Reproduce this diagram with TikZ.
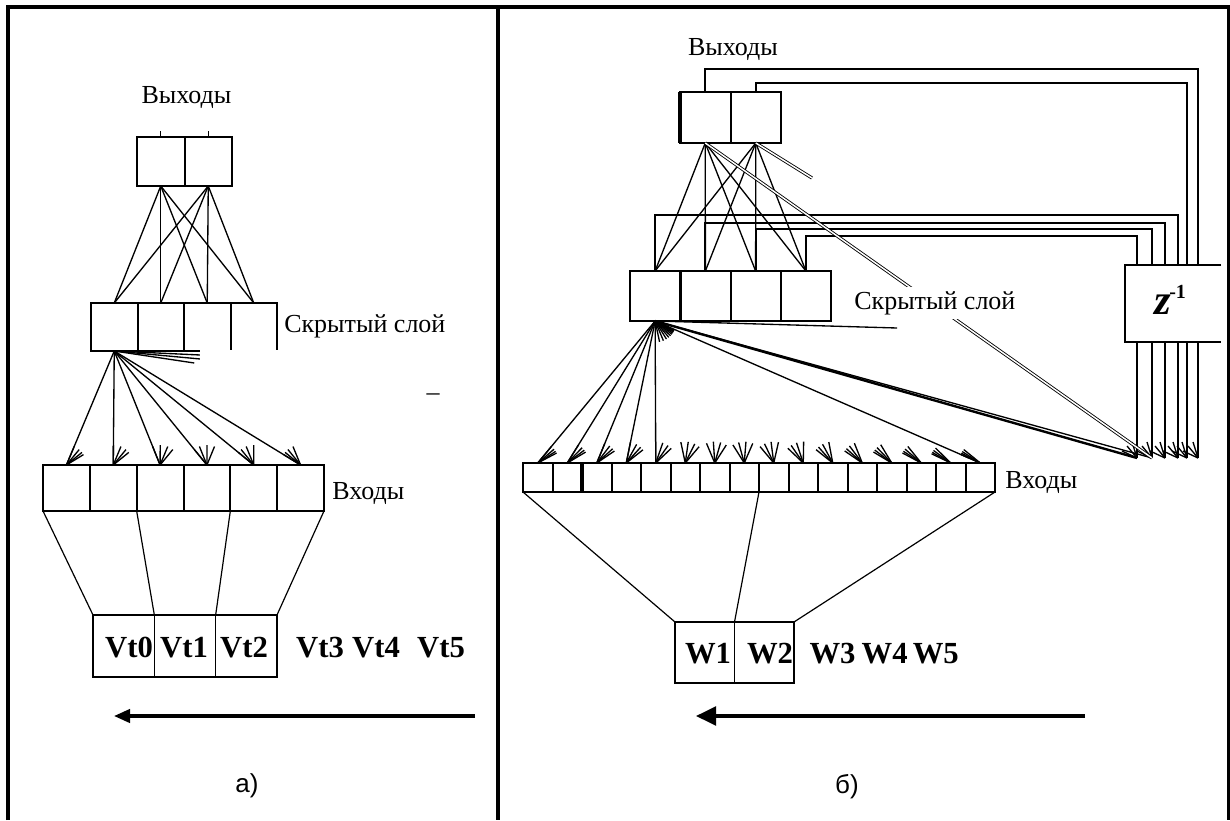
\documentclass[tikz,border=0pt]{standalone}
\usepackage{fontspec}
\setmainfont{Liberation Serif}
\newfontfamily\capfont{Liberation Sans}
\usetikzlibrary{calc,arrows.meta}
\begin{document}
\begin{tikzpicture}[x=0.75pt,y=-0.75pt,
 box/.style={draw,line width=1.5pt,inner sep=0pt,outer sep=0pt},
 lout/.style={box,minimum width=35.625pt,minimum height=36.75pt},
 lhid/.style={box,minimum width=34.875pt,minimum height=36pt},
 linp/.style={box,minimum width=35.125pt,minimum height=34.5pt},
 lvt/.style={box,line width=1.2pt,minimum width=46pt,minimum height=46.5pt},
 rout/.style={box,minimum width=37.875pt,minimum height=38.25pt},
 rhid/.style={box,minimum width=37.6875pt,minimum height=37.5pt},
 rinp/.style={box,minimum width=22.125pt,minimum height=21.75pt},
 rw/.style={box,line width=1.2pt,minimum width=44.625pt,minimum height=45.75pt},
 conn/.style={line width=1pt},
 thin/.style={line width=0.9pt},
 fb/.style={line width=1.6pt},
 dbl/.style={double,double distance=1.1pt,line width=0.65pt},
 txt/.style={inner sep=0pt,font=\fontsize{19.5}{22}\selectfont},
 btxt/.style={inner sep=0pt,font=\fontsize{23}{26}\selectfont\bfseries},
 captxt/.style={inner sep=0pt,font=\capfont\fontsize{19.5}{22}\selectfont},
 frameline/.style={line width=2.4pt}
]
\useasboundingbox (0,0) rectangle (1230,820);

% ---------- frame ----------
\draw[frameline] (8,820) -- (8,7) -- (1230,7);
\draw[frameline] (498,7) -- (498,820);
\draw[line width=1.6pt] (1228.5,7) -- (1228.5,820);

% ================= LEFT PANEL =================
\foreach \i/\x in {1/160.75,2/208.25} \node[lout] (lo\i) at (\x,161.5) {};
\foreach \i/\x in {1/114.25,2/160.75,3/207.25,4/253.75} \node[lhid] (lh\i) at (\x,327) {};
\foreach \i in {1,...,6} \node[linp] (li\i) at ({43+46.833*(\i-0.5)},488) {};
\foreach \i/\x in {0/123.67,1/185,2/246.33} \node[lvt] (lv\i) at (\x,646) {};

\draw[conn] (lo1.north) -- ++(0,-6);
\draw[conn] (lo2.north) -- ++(0,-6);
\foreach \i in {1,2} \foreach \k in {1,...,4} \draw[conn] (lo\i.south) -- (lh\k.north);
\foreach \j in {1,...,6} \draw[conn] (lh1.south) -- (li\j.north);
\foreach \j in {1,...,6} \foreach \k in {1,...,4}
  \draw[conn] (li\j.north) -- ($(li\j.north)!15pt!(lh\k.south)$);
\draw[conn] (lh1.south) -- ++(86,4);
\draw[conn] (lh1.south) -- ++(86,8);
\draw[conn] (lh1.south) -- ++(80,12);
\fill[white] (200,349.9) rectangle (292,372);

\draw[thin] (li1.south west) -- (lv0.north west);
\draw[thin] (li3.south west) -- (lv1.north west);
\draw[thin] (li5.south west) -- (lv2.north west);
\draw[thin] (li6.south east) -- (lv2.north east);

\node[txt,anchor=base] (lout-t) at (186.5,104) {Выходы};
\node[txt,anchor=base west] (lhid-t) at (284,332) {Скрытый слой};
\node[txt,anchor=base west] (linp-t) at (332,499) {Входы};
\node[txt] (ldash) at (433,397) {–};

\node[btxt,anchor=base] (vt0) at (129,657) {Vt0};
\node[btxt,anchor=base] (vt1) at (184,657) {Vt1};
\node[btxt,anchor=base] (vt2) at (244,657) {Vt2};
\node[btxt,anchor=base] (vt3) at (320,657) {Vt3};
\node[btxt,anchor=base] (vt4) at (376,657) {Vt4};
\node[btxt,anchor=base] (vt5) at (441,657) {Vt5};

\coordinate (la1) at (475,716);
\coordinate (la2) at (114,716);
\draw[line width=2.4pt,-{Triangle[length=12pt,width=10pt]}] (la1) -- (la2);
\node[captxt,anchor=base] (capa) at (247,792) {а)};

% ================= RIGHT PANEL =================
\foreach \i/\x in {1/705.25,2/755.75} \node[rout] (ro\i) at (\x,117.5) {};
\foreach \i/\x in {1/655.125,2/705.375,3/755.625,4/805.875} \node[rhid] (rh\i) at (\x,296) {};
\foreach \i in {1,...,16} \node[rinp] (ri\i) at ({523+29.5*(\i-0.5)},477.5) {};
\foreach \i/\x in {1/704.75,2/764.25} \node[rw] (rw\i) at (\x,652.5) {};
\draw[line width=2.4pt] (ro1.north west) -- (ro1.south west);
\draw[line width=2.4pt] (rh2.north west) -- (rh2.south west);
\draw[line width=2.4pt] (ri3.north west) -- (ri3.south west);

% z^-1 box
\node[inner sep=0pt,outer sep=0pt,minimum width=72pt,minimum height=57.75pt] (zb) at (1173,303.5) {};
\draw[line width=1.5pt] (zb.north east) -- (zb.north west) -- (zb.south west) -- (zb.south east);
\node[inner sep=0pt] (zl) at (1170,300) {\fontsize{32}{32}\selectfont\bfseries\itshape z\kern-1pt\raisebox{12pt}{\fontsize{15}{15}\selectfont\upshape -1}};

\foreach \k/\x in {1/1137,2/1152,3/1165,4/1178,5/1187,6/1198} {
  \coordinate (zt\k) at (\x,265);
  \coordinate (zd\k) at (\x,342);
  \coordinate (ctx\k) at (\x,458);
}
\coordinate (fc1) at (1198,69);
\coordinate (fc2) at (1187,83);
\coordinate (fc3) at (1178,215);
\coordinate (fc4) at (1165,223);
\coordinate (fc5) at (1152,229);
\coordinate (fc6) at (1137,236);
\draw[fb] (ro1.north) |- (fc1) -- (zt6);
\draw[fb] (ro2.north) |- (fc2) -- (zt5);
\draw[fb] (rh1.north) |- (fc3) -- (zt4);
\draw[fb] (rh2.north) |- (fc4) -- (zt3);
\draw[fb] (rh3.north) |- (fc5) -- (zt2);
\draw[fb] (rh4.north) |- (fc6) -- (zt1);
\foreach \k in {1,...,6} \draw[fb] (zd\k) -- (ctx\k);

\foreach \i in {1,2} \foreach \k in {1,...,4} \draw[conn] (ro\i.south) -- (rh\k.north);
\foreach \j in {1,2,3,4,5,16} \draw[conn] (rh1.south) -- (ri\j.north);
\foreach \j in {6,...,15} \draw[conn] (rh1.south) -- ($(rh1.south)!16pt!(ri\j.north)$);
\foreach \j in {1,...,16} \foreach \k in {1,...,4}
  \draw[conn] (ri\j.north) -- ($(ri\j.north)!16pt!(rh\k.south)$);
\draw[line width=1.8pt] (rh1.south) -- (ctx1);
\draw[conn] (rh1.south) -- (ctx2);
\coordinate (hbend) at (897,328);
\draw[conn] (rh1.south) -- (hbend);
\foreach \k in {1,...,6} \foreach \dx/\dy in {-5/-16,-10/-12,-15/-7}
  \draw[conn] (ctx\k) -- ++(\dx,\dy);

\draw[dbl] (ro1.south) -- (ctx2);
\coordinate (o2end) at (812,178);
\draw[dbl] (ro2.south) -- (o2end);

\draw[thin] (ri1.south west) -- (rw1.north west);
\draw[thin] (ri8.south east) -- (rw1.north east);
\draw[thin] (ri16.south east) -- (rw2.north east);

\node[txt,anchor=base] (rout-t) at (733,56) {Выходы};
\node[txt,anchor=base west,fill=white,inner sep=3pt] (rhid-t) at (850,309) {Скрытый слой};
\node[txt,anchor=base west] (rinp-t) at (1005,488) {Входы};

\node[btxt,anchor=base] (w1) at (708,663) {W1};
\node[btxt,anchor=base] (w2) at (770,663) {W2};
\node[btxt,anchor=base] (w3) at (832.5,663) {W3};
\node[btxt,anchor=base] (w4) at (884.7,663) {W4};
\node[btxt,anchor=base] (w5) at (935.8,663) {W5};

\coordinate (ra1) at (1085,716);
\coordinate (ra2) at (696,716);
\draw[line width=2.4pt,-{Triangle[length=15pt,width=14pt]}] (ra1) -- (ra2);
\node[captxt,anchor=base] (capb) at (847,793) {б)};
\end{tikzpicture}
\end{document}
